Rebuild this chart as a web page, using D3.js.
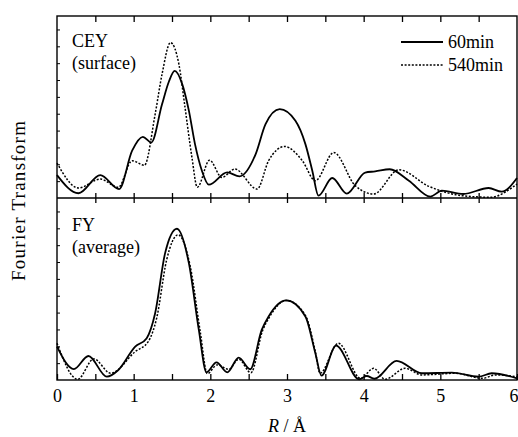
<!DOCTYPE html>
<html><head><meta charset="utf-8">
<script src="https://cdn.jsdelivr.net/npm/d3@7"></script>
<style>
body{margin:0;background:#fff;}
svg{display:block;font-family:"Liberation Serif","Times New Roman",serif;}
</style></head>
<body><svg id="c" width="518" height="437"></svg>
<script>
// ---- data ----
const ceyR60  = [0, 0.28, 0.565, 0.81, 0.98, 1.12, 1.23, 1.37, 1.46, 1.535, 1.63, 1.72, 1.8, 1.89, 1.98, 2.22, 2.38, 2.59, 2.72, 2.905, 3.11, 3.24, 3.33, 3.41, 3.59, 3.78, 4.02, 4.15, 4.34, 4.59, 4.87, 5.02, 5.3, 5.63, 5.8, 6];
const ceyV60  = [12.6, 2.6, 12.6, 4.9, 26, 33.6, 30.5, 51.5, 64, 69.8, 63, 48, 29.6, 15, 7.3, 14.1, 11.9, 24, 40.6, 48.8, 42.4, 29.6, 15, 1.3, 11, 2.4, 14, 14.6, 15.8, 9.5, 0.8, 4, 2.2, 5.5, 3.5, 11];
const ceyR540 = [0, 0.28, 0.565, 0.8, 0.98, 1.14, 1.28, 1.37, 1.48, 1.59, 1.67, 1.76, 1.83, 1.99, 2.15, 2.32, 2.61, 2.76, 2.97, 3.2, 3.37, 3.61, 3.89, 4.13, 4.46, 4.85, 5.28, 5.65, 6];
const ceyV540 = [19.2, 5.5, 10.4, 5.9, 20.5, 18, 46, 68, 85.4, 73.5, 49.7, 22.3, 5.9, 20.8, 11.3, 15.9, 4.9, 20.5, 28.3, 20.5, 9.5, 25, 6.8, 2.2, 15.5, 6.4, 1.3, 0.4, 7.7];
const fyR60   = [0, 0.22, 0.41, 0.65, 0.8, 1.02, 1.17, 1.28, 1.41, 1.565, 1.72, 1.85, 1.95, 2.08, 2.22, 2.37, 2.52, 2.67, 2.76, 2.99, 3.24, 3.37, 3.45, 3.64, 3.94, 4.04, 4.14, 4.43, 4.76, 5.15, 5.5, 5.67, 6];
const fyV60   = [18.3, 6, 13.2, 1.8, 5.5, 18.3, 23, 36.7, 69.7, 83.1, 64.2, 27.5, 4.2, 9.7, 4.2, 12.3, 5.9, 27.5, 34.9, 43.7, 34.9, 14.7, 2.4, 18.9, 0.4, 2.2, 0.7, 10.5, 3.7, 4, 1.8, 3.7, 0.9];
const fyR540  = [0, 0.27, 0.48, 0.7, 1.02, 1.19, 1.3, 1.43, 1.58, 1.74, 1.87, 1.96, 2.09, 2.24, 2.37, 2.53, 2.68, 2.77, 2.99, 3.24, 3.37, 3.43, 3.67, 3.96, 4.13, 4.28, 4.54, 4.76, 5.2, 5.55, 5.72, 6];
const fyV540  = [20.2, 0.4, 11.6, 3.7, 15.6, 21.1, 34, 66, 79.8, 62, 26, 3.5, 8.3, 5.9, 11.4, 4, 27, 34.5, 43.7, 35.5, 15.5, 3.7, 20.2, 0.9, 6.4, 0.4, 6.4, 2.8, 3.7, 0.9, 2.8, 1.8];
const xTickLabels = ["0","1","2","3","4","5","6"];
const seriesNames = ["60min","540min"];
const panelLabels = [["CEY","(surface)"],["FY","(average)"]];

// ---- layout ----
const svg = d3.select("#c");
const L = 57, R = 517, T = 16, M = 198, B = 380;
const x = d3.scaleLinear().domain([0,6]).range([L,R]);
const yTop = d3.scaleLinear().domain([0,100]).range([M,T]);
const yBot = d3.scaleLinear().domain([0,100]).range([B,M]);
const majorX = d3.range(0, 6.001, 0.5);
const minorY = d3.range(9.26, 100, 9.26);

function drawSeries(ys, rs, vs, dashed){
  const pts = rs.map((r,i)=>[r, vs[i]]);
  const line = d3.line().x(d=>x(d[0])).y(d=>ys(d[1])).curve(d3.curveMonotoneX);
  svg.append("path").datum(pts).attr("d", line)
    .attr("fill","none").attr("stroke","#000")
    .attr("stroke-width", dashed ? 1.5 : 1.8)
    .attr("stroke-dasharray", dashed ? "2,1.6" : null);
}
drawSeries(yTop, ceyR540, ceyV540, true);
drawSeries(yTop, ceyR60, ceyV60, false);
drawSeries(yBot, fyR540, fyV540, true);
drawSeries(yBot, fyR60, fyV60, false);

// frame
const fr = svg.append("g").attr("stroke","#000").attr("stroke-width",1.4).attr("fill","none");
fr.append("rect").attr("x",L).attr("y",T).attr("width",R-L).attr("height",B-T);
fr.append("line").attr("x1",L).attr("x2",R).attr("y1",M).attr("y2",M);

// axes
const ax = (g)=>g.call(s=>s.select(".domain").remove()).call(s=>s.selectAll("line").attr("stroke","#000").attr("stroke-width",1.3));
svg.append("g").attr("transform",`translate(0,${B})`)
  .call(d3.axisBottom(x).tickValues(majorX).tickSizeInner(-6).tickSizeOuter(0).tickPadding(9)
    .tickFormat(d=> Number.isInteger(d) ? xTickLabels[d] : ""))
  .call(ax).call(g=>g.selectAll("text").attr("font-size",18).attr("font-family","Liberation Serif").attr("fill","#000"))
  .call(g=>g.selectAll(".tick text").filter(d=>d===6).attr("text-anchor","end").attr("dx",1));
svg.append("g").attr("transform",`translate(0,${T})`)
  .call(d3.axisTop(x).tickValues(majorX.slice(1,-1)).tickSizeInner(-6).tickSizeOuter(0).tickFormat(""))
  .call(ax);
svg.append("g").attr("transform",`translate(0,${M})`)
  .call(d3.axisTop(x).tickValues(majorX.slice(1,-1)).tickSizeInner(-5).tickSizeOuter(0).tickFormat(""))
  .call(ax);
svg.append("g").attr("transform",`translate(0,${M})`)
  .call(d3.axisTop(x).tickValues(majorX.slice(1,-1)).tickSizeInner(5).tickSizeOuter(0).tickFormat(""))
  .call(ax);
[yTop,yBot].forEach(ys=>{
  svg.append("g").attr("transform",`translate(${L},0)`)
    .call(d3.axisLeft(ys).tickValues(minorY).tickSizeInner(-3).tickSizeOuter(0).tickFormat(""))
    .call(ax).call(g=>g.selectAll("line").attr("stroke-width",1));
});

// panel labels
const tx = svg.append("g").attr("font-size",18).attr("fill","#000");
tx.append("text").attr("x",72).attr("y",47).text(panelLabels[0][0]);
tx.append("text").attr("x",72).attr("y",69).text(panelLabels[0][1]);
tx.append("text").attr("x",72).attr("y",231).text(panelLabels[1][0]);
tx.append("text").attr("x",72).attr("y",253).text(panelLabels[1][1]);

// legend
const lg = svg.append("g");
[42,65].forEach((ly,i)=>{
  lg.append("line").attr("x1",401).attr("x2",443).attr("y1",ly).attr("y2",ly)
    .attr("stroke","#000").attr("stroke-width", i ? 1.5 : 1.8).attr("stroke-dasharray", i ? "2,1.6" : null);
  lg.append("text").attr("x",448).attr("y",ly+6).attr("font-size",18).text(seriesNames[i]);
});

// axis titles
svg.append("text").attr("transform","translate(25,201) rotate(-90)").attr("text-anchor","middle")
  .attr("font-size",19).attr("textLength",160).text("Fourier  Transform");
const xt = svg.append("text").attr("x",287).attr("y",432).attr("text-anchor","middle").attr("font-size",18);
xt.append("tspan").attr("font-style","italic").text("R");
xt.append("tspan").text(" / Å");
</script></body></html>
